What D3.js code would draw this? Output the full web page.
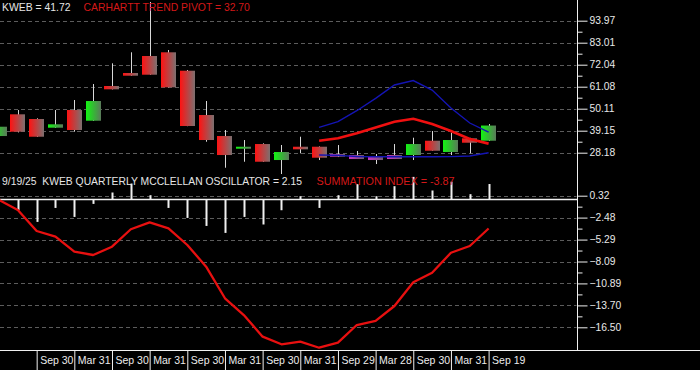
<!DOCTYPE html>
<html>
<head>
<meta charset="utf-8">
<script src="https://cdn.jsdelivr.net/npm/d3@7"></script>
<style>
  html, body { margin: 0; padding: 0; background: #000; }
  svg { display: block; }
  text { font-family: "Liberation Sans", Arial, sans-serif; }
</style>
</head>
<body>
<div id="chart"></div>
<script>
// quarterly candles, Q1 2019 .. Q3 2025
const quarters = ["Q1 19","Q2 19","Q3 19","Q4 19","Q1 20","Q2 20","Q3 20","Q4 20","Q1 21","Q2 21","Q3 21","Q4 21",
  "Q1 22","Q2 22","Q3 22","Q4 22","Q1 23","Q2 23","Q3 23","Q4 23","Q1 24","Q2 24","Q3 24","Q4 24","Q1 25","Q2 25","Q3 25"];
const open  = [36.49, 47.31, 44.97, 40.63, 49.45, 44.12, 61.42, 67.90, 76.37, 78.22, 69.04, 46.96,
  36.49, 30.36, 32.50, 24.53, 31.16, 31.16, 27.52, 27.02, 26.52, 27.02, 27.02, 34.15, 28.52, 35.35, 34.15];
const high  = [47.96, 49.45, 45.32, 49.45, 54.44, 62.41, 72.73, 78.22, 103.3, 79.36, 69.40, 53.94,
  39.48, 34.50, 32.85, 32.01, 36.14, 31.30, 32.00, 29.02, 27.52, 32.50, 35.65, 38.98, 38.14, 35.60, 42.47];
const low   = [36.00, 38.30, 36.00, 40.50, 38.64, 44.00, 59.70, 66.50, 67.00, 60.70, 41.40, 33.65,
  20.69, 23.68, 23.60, 17.55, 27.87, 24.53, 26.00, 25.03, 22.53, 25.03, 24.53, 29.16, 27.02, 27.87, 34.00];
const close = [41.13, 38.64, 36.14, 42.33, 39.48, 53.94, 59.77, 66.55, 67.05, 60.77, 41.48, 34.50,
  27.02, 31.16, 23.68, 28.52, 29.86, 25.68, 26.17, 25.03, 24.53, 25.03, 32.50, 29.16, 34.50, 33.15, 41.72];
const candleColor = ["g","r","r","g","r","g","r","r","r","r","r","r",
  "r","g","r","g","r","r","m","m","m","m","g","r","g","r","g"];

// carhartt bands start at Q2 2023
const bandStart = 17;
const upperBand  = [40.83, 43.62, 49.10, 55.29, 61.92, 64.16, 59.42, 50.45, 42.97, 38.49];
const trendPivot = [34.15, 35.35, 37.84, 40.73, 43.62, 45.12, 42.47, 38.98, 35.00, 32.70];
const lowerBand  = [27.02, 26.87, 26.30, 26.17, 26.17, 26.17, 26.17, 26.20, 26.52, 28.17];

// quarterly mcclellan oscillator and summation index
const oscillator = [null, -1.49, -3.11, -1.17, -2.42, -0.61, 0.97, 2.22, 0.60, -1.17, -2.56, -3.67,
  -4.64, -2.42, -3.47, -1.49, 0.46, -1.17, 0.60, 2.13, 0.46, 1.85, 3.14, 1.25, 2.47, 0.74, 2.15];
const summation = [-0.23, -1.51, -4.19, -4.92, -6.84, -7.26, -6.20, -3.97, -3.08, -3.85, -5.98, -8.75,
  -12.79, -14.93, -17.70, -18.67, -18.34, -19.11, -18.47, -16.21, -15.69, -13.78, -10.75, -9.52, -6.97, -6.11, -3.87];

const priceTicks = [93.97, 83.01, 72.04, 61.08, 50.11, 39.15, 28.18];
const sumTicks = [0.32, -2.48, -5.29, -8.09, -10.89, -13.70, -16.50];
const dateTicks = [2, 4, 6, 8, 10, 12, 14, 16, 18, 20, 22, 24, 26];
const dateLabels = ["Sep 30","Mar 31","Sep 30","Mar 31","Sep 30","Mar 31","Sep 30","Mar 31",
  "Sep 29","Mar 28","Sep 30","Mar 31","Sep 19"];

const width = 700, height = 370;
const plotRight = 577.5;
const axisY = 350.5;

const svg = d3.select("#chart").append("svg")
  .attr("width", width)
  .attr("height", height)
  .style("background", "#000");

const x = d3.scaleLinear().domain([0, quarters.length - 1]).range([-1, 488.6]);
const yP = d3.scaleLinear().domain([28.18, 93.97]).range([152.7, 20.7]);
const yS = d3.scaleLinear().domain([-16.50, 0.32]).range([327.3, 195.7]);
const yO = d3.scaleLinear().domain([0, 1]).range([199.5, 192.3]);

const mid = arr => d3.pairs(arr).map(([a, b]) => (a + b) / 2);

// gradients for candle bodies
const defs = svg.append("defs");
const grads = { r: ["#ff1212", "#7c7070"], g: ["#12f412", "#5a7a5a"], m: ["#c833c0", "#6e5a70"] };
Object.entries(grads).forEach(([k, [c0, c1]]) => {
  const g = defs.append("linearGradient").attr("id", "grad-" + k)
    .attr("x1", 0).attr("x2", 1).attr("y1", 0).attr("y2", 0);
  g.append("stop").attr("offset", 0).attr("stop-color", c0);
  g.append("stop").attr("offset", 1).attr("stop-color", c1);
});

// grid lines
const grid = svg.append("g")
  .attr("stroke", "#5c5c5c")
  .attr("stroke-dasharray", "4,3");
grid.selectAll(".gp").data(priceTicks).join("line")
  .attr("x1", 0).attr("x2", plotRight - 1)
  .attr("y1", d => Math.round(yP(d)) + 0.5).attr("y2", d => Math.round(yP(d)) + 0.5);
grid.selectAll(".gs").data(sumTicks).join("line")
  .attr("x1", 0).attr("x2", plotRight - 1)
  .attr("y1", d => Math.round(yS(d)) + 0.5).attr("y2", d => Math.round(yS(d)) + 0.5);

// candles
const idx = d3.range(quarters.length);
const bodyW = 15;
svg.append("g").selectAll("line").data(idx).join("line")
  .attr("x1", i => Math.round(x(i)) + 0.5).attr("x2", i => Math.round(x(i)) + 0.5)
  .attr("y1", i => yP(high[i])).attr("y2", i => yP(low[i]))
  .attr("stroke", "#d8d8d8");

svg.append("g").selectAll("rect").data(idx).join("rect")
  .attr("x", i => Math.round(x(i) - bodyW / 2))
  .attr("width", bodyW)
  .attr("y", i => yP(Math.max(open[i], close[i])))
  .attr("height", i => Math.max(2, yP(Math.min(open[i], close[i])) - yP(Math.max(open[i], close[i]))))
  .attr("fill", i => `url(#grad-${candleColor[i]})`);

// bands
const bandLine = d3.line()
  .x((d, i) => x(bandStart + i))
  .y(d => yP(d));

svg.append("path").datum(upperBand)
  .attr("fill", "none").attr("stroke", "#1414b4").attr("stroke-width", 1.4)
  .attr("d", bandLine);
svg.append("path").datum(lowerBand)
  .attr("fill", "none").attr("stroke", "#1414b4").attr("stroke-width", 1.4)
  .attr("d", bandLine);
svg.append("path").datum(trendPivot)
  .attr("fill", "none").attr("stroke", "#f01010").attr("stroke-width", 2.6)
  .attr("d", bandLine);

// oscillator bars
svg.append("g").selectAll("rect").data(idx.filter(i => oscillator[i] != null)).join("rect")
  .attr("x", i => Math.round(x(i)) - 0.5)
  .attr("width", 2)
  .attr("y", i => Math.min(yO(0), yO(oscillator[i])))
  .attr("height", i => Math.abs(yO(oscillator[i]) - yO(0)))
  .attr("fill", "#f0f0f0");

// separator / zero line
svg.append("line")
  .attr("x1", 0).attr("x2", plotRight)
  .attr("y1", yO(0)).attr("y2", yO(0))
  .attr("stroke", "#f0f0f0").attr("stroke-width", 1.5);

// summation index
svg.append("path").datum(summation)
  .attr("fill", "none").attr("stroke", "#e81010").attr("stroke-width", 2.3)
  .attr("stroke-linejoin", "round")
  .attr("d", d3.line().x((d, i) => x(i)).y(d => yS(d)));

// right axes
const axisColor = "#f0f0f0";
function styleAxis(g) {
  g.select(".domain").remove();
  g.selectAll("line").attr("stroke", axisColor);
  g.selectAll("text").attr("fill", "#e8e8e8").style("font-size", "10.3px")
    .style("font-family", "'Liberation Sans', Arial, sans-serif");
}

svg.append("g").attr("transform", `translate(${plotRight},0)`)
  .call(d3.axisRight(yP).tickValues(priceTicks).tickFormat(d3.format(".2f")).tickSize(10).tickPadding(2))
  .call(styleAxis);
svg.append("g").attr("transform", `translate(${plotRight},0)`)
  .call(d3.axisRight(yP).tickValues(mid(priceTicks)).tickFormat("").tickSize(5))
  .call(styleAxis);
svg.append("g").attr("transform", `translate(${plotRight},0)`)
  .call(d3.axisRight(yS).tickValues(sumTicks).tickFormat(d3.format(".2f")).tickSize(10).tickPadding(2))
  .call(styleAxis);
svg.append("g").attr("transform", `translate(${plotRight},0)`)
  .call(d3.axisRight(yS).tickValues(mid(sumTicks)).tickFormat("").tickSize(5))
  .call(styleAxis);

svg.append("line")
  .attr("x1", plotRight).attr("x2", plotRight)
  .attr("y1", 0).attr("y2", axisY)
  .attr("stroke", axisColor);

// date axis
svg.append("line")
  .attr("x1", 0).attr("x2", width)
  .attr("y1", axisY).attr("y2", axisY)
  .attr("stroke", axisColor);

const xAxis = svg.append("g").attr("transform", `translate(0,${axisY})`)
  .call(d3.axisBottom(x).tickValues(dateTicks).tickFormat((d, i) => dateLabels[i]).tickSize(20).tickSizeOuter(0));
xAxis.select(".domain").remove();
xAxis.selectAll("line").attr("stroke", axisColor);
xAxis.selectAll("text")
  .attr("fill", "#ececec")
  .attr("text-anchor", "start")
  .attr("x", 3).attr("y", 13.5).attr("dy", null)
  .style("font-size", "10.5px")
  .style("font-family", "'Liberation Sans', Arial, sans-serif");

// labels
const labels = svg.append("g");
labels.append("text").attr("x", 2).attr("y", 10.5)
  .attr("fill", "#e6e6e6").style("font-size", "10.4px")
  .text("KWEB = " + close[close.length - 1].toFixed(2));
labels.append("text").attr("x", 83.5).attr("y", 10.5)
  .attr("fill", "#d41818").style("font-size", "10.4px")
  .text("CARHARTT TREND PIVOT = " + trendPivot[trendPivot.length - 1].toFixed(2));
labels.append("text").attr("x", 2).attr("y", 185)
  .attr("fill", "#e6e6e6").style("font-size", "10.35px")
  .attr("xml:space", "preserve").style("white-space", "pre")
  .text("9/19/25  KWEB QUARTERLY MCCLELLAN OSCILLATOR = " + oscillator[oscillator.length - 1].toFixed(2));
labels.append("text").attr("x", 316.5).attr("y", 185)
  .attr("fill", "#d41818").style("font-size", "10.8px")
  .text("SUMMATION INDEX = " + summation[summation.length - 1].toFixed(2));
</script>
</body>
</html>
